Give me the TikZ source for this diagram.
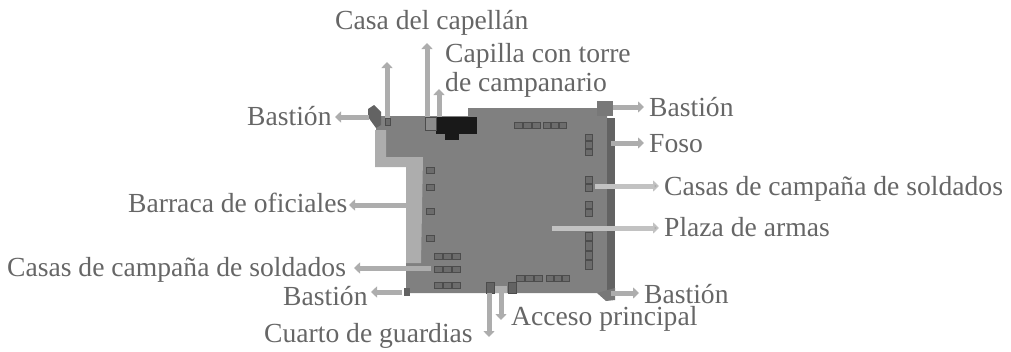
\documentclass[tikz,border=0pt]{standalone}
\usepackage{fontspec}
\setmainfont{Liberation Serif}
\usetikzlibrary{arrows.meta}
\definecolor{txt}{gray}{0.40}
\definecolor{plaza}{gray}{0.50}
\definecolor{band}{gray}{0.47}
\definecolor{light}{gray}{0.68}
\definecolor{arrowg}{gray}{0.68}
\definecolor{pale}{gray}{0.76}
\definecolor{moat}{gray}{0.39}
\definecolor{hut}{gray}{0.30}
\tikzset{
  x=1pt,y=-1pt,
  lab/.style={font=\fontsize{27.6}{32}\selectfont,text=txt,inner sep=0pt,anchor=base west},
  callout/.style={draw=arrowg,line width=5pt,-{Triangle[length=6pt,width=11pt,fill=arrowg]}},
  calloutpale/.style={callout,draw=pale,-{Triangle[length=6pt,width=11pt,fill=arrowg]}},
  hutbox/.style={draw=hut,line width=.9pt,fill=plaza!85!black},
}
\newcommand{\huts}[5]{\foreach \i in {1,...,#3}{\draw[hutbox] ({#1+(\i-1)*#4},#2) rectangle ++(#4-.8,#5);}}
\newcommand{\vhuts}[5]{\foreach \i in {1,...,#3}{\draw[hutbox] (#1,{#2+(\i-1)*#5}) rectangle ++(#4,#5-.8);}}
\begin{document}
\begin{tikzpicture}
\useasboundingbox (0,0) rectangle (1011,351);
% fort ground
\fill[plaza] (376,116) -- (468,116) -- (468,108) -- (607,108) -- (607,293) -- (406,293) -- (406,263) -- (421,263) -- (421,157) -- (386,157) -- (386,130) -- (376,130) -- cycle;
\fill[light] (375,130) -- (386,130) -- (386,157) -- (423,157) -- (421,263) -- (406,263) -- (406,167) -- (375,167) -- cycle;
\fill[moat] (607,118) rectangle (615,293);
\fill[band] (597,101) rectangle (613,116);
\fill[band] (597,293) -- (615,288) -- (615,300) -- (606,301) -- cycle;
\fill[moat] (368,109) -- (374,105) -- (381,112) -- (381,125) -- (376,128) -- (368,117) -- cycle;
\fill[moat] (404,288) rectangle (410,296);
% chapel
\fill[black!90] (436,117) rectangle (477,134);
\fill[black!90] (445,134) rectangle (459,140);
\fill[gray!90,draw=hut] (425,117) rectangle (436,130);
\draw[hutbox] (385,118) rectangle (390,125);
% huts
\huts{514}{122}{3}{9}{6}
\huts{543}{122}{3}{8}{6}
\vhuts{585}{134}{3}{7}{7.5}
\vhuts{585}{176}{2}{7}{8}
\vhuts{585}{201}{2}{7}{8}
\vhuts{585}{232}{4}{7}{9.5}
\draw[hutbox] (426,167) rectangle (434,173);
\draw[hutbox] (426,184) rectangle (434,190);
\draw[hutbox] (426,208) rectangle (434,214);
\draw[hutbox] (426,235) rectangle (434,241);
\huts{434}{253}{3}{9}{6}
\huts{434}{266}{3}{9}{6}
\huts{434}{282}{3}{9}{6}
\huts{516}{275}{3}{9}{6}
\huts{546}{275}{3}{8}{6}
\draw[hutbox,fill=moat] (486,282) rectangle (494,293);
\draw[hutbox,fill=moat] (508,282) rectangle (516,293);
\fill[light] (495,286) rectangle (507,293);
% labels
\node[lab] (capellan) at (335,29) {Casa del capellán};
\node[lab] (capilla1) at (445,62) {Capilla con torre};
\node[lab] (capilla2) at (445,91) {de campanario};
\node[lab] (bastionTR) at (649,116) {Bastión};
\node[lab] (foso) at (649,152) {Foso};
\node[lab] (casasR) at (664,195) {Casas de campaña de soldados};
\node[lab] (plaza) at (664,236) {Plaza de armas};
\node[lab] (bastionBR) at (644,303) {Bastión};
\node[lab] (bastionTL) at (247,125) {Bastión};
\node[lab] (barraca) at (128,212) {Barraca de oficiales};
\node[lab] (casasL) at (7,276) {Casas de campaña de soldados};
\node[lab] (bastionBL) at (283,305) {Bastión};
\node[lab] (acceso) at (511,325) {Acceso principal};
\node[lab] (cuarto) at (264,342) {Cuarto de guardias};
% connector ends
\coordinate (a1) at (387,118); \coordinate (a1e) at (387,62);
\coordinate (a2) at (427,117); \coordinate (a2e) at (427,43);
\coordinate (a3) at (439,117); \coordinate (a3e) at (439,89);
\coordinate (a4) at (369,117); \coordinate (a4e) at (335,117);
\coordinate (a5) at (613,107); \coordinate (a5e) at (644,107);
\coordinate (a6) at (611,143); \coordinate (a6e) at (644,143);
\coordinate (a7) at (595,186); \coordinate (a7e) at (659,186);
\coordinate (a8) at (552,228); \coordinate (a8e) at (659,228);
\coordinate (a9) at (611,293); \coordinate (a9e) at (639,293);
\coordinate (a10) at (407,205); \coordinate (a10e) at (349,205);
\coordinate (a11) at (431,268); \coordinate (a11e) at (354,268);
\coordinate (a12) at (402,292); \coordinate (a12e) at (371,292);
\coordinate (a13) at (501,293); \coordinate (a13e) at (501,320);
\coordinate (a14) at (489,293); \coordinate (a14e) at (489,337);
\draw[callout] (a1) -- (a1e);
\draw[callout] (a2) -- (a2e);
\draw[callout] (a3) -- (a3e);
\draw[callout] (a4) -- (a4e);
\draw[callout] (a5) -- (a5e);
\draw[callout] (a6) -- (a6e);
\draw[calloutpale] (a7) -- (a7e);
\draw[calloutpale] (a8) -- (a8e);
\draw[callout] (a9) -- (a9e);
\draw[callout] (a10) -- (a10e);
\draw[callout] (a11) -- (a11e);
\draw[callout] (a12) -- (a12e);
\draw[callout] (a13) -- (a13e);
\draw[callout] (a14) -- (a14e);
\end{tikzpicture}
\end{document}
